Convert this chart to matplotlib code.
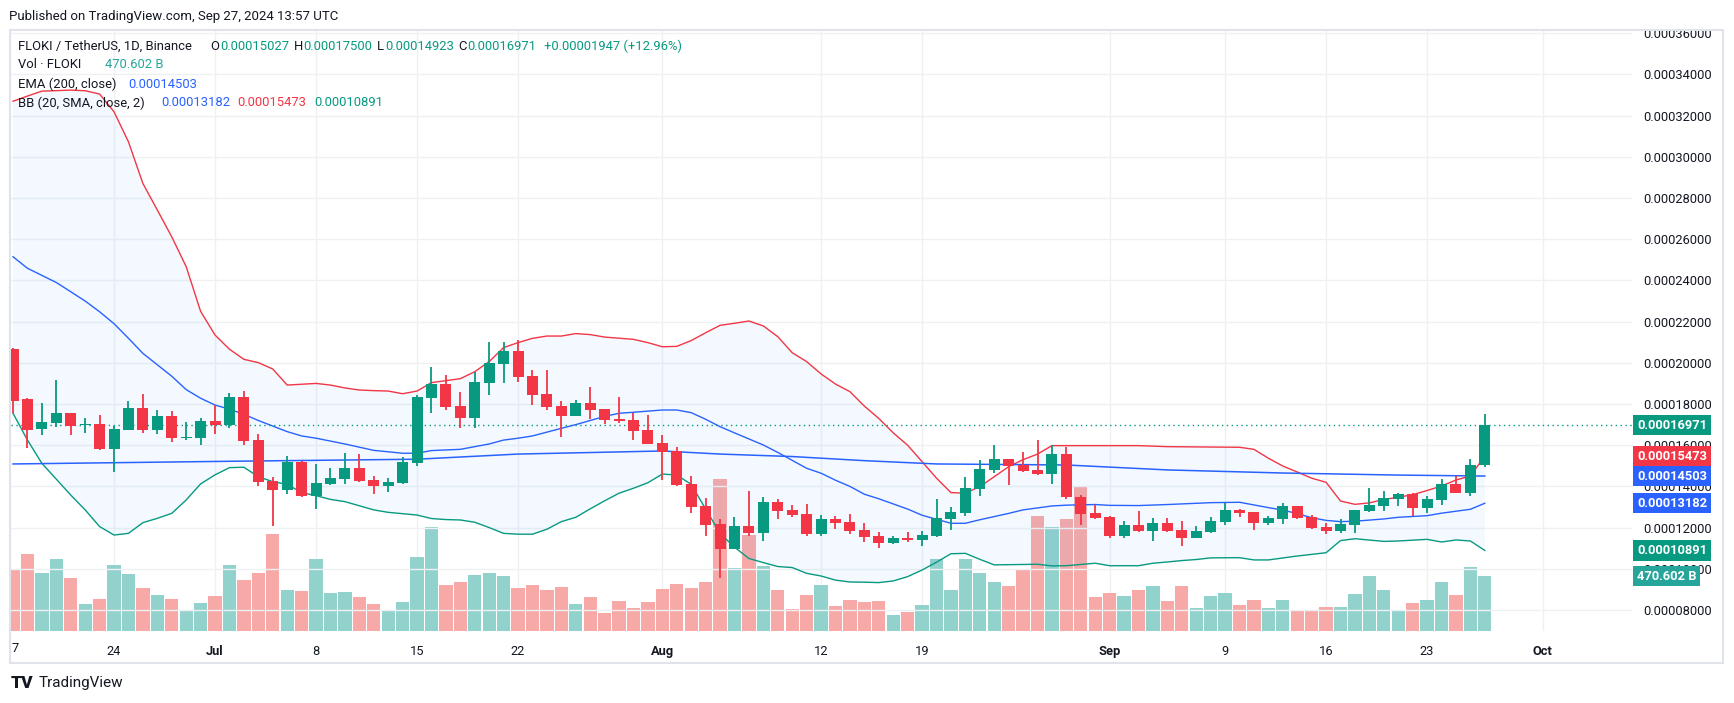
"""
FLOKI / TetherUS daily chart (TradingView screenshot style).

Outputs:
- out.png
"""

import numpy as np
import pandas as pd
import matplotlib
matplotlib.use("Agg")
import matplotlib.pyplot as plt
import matplotlib.dates as mdates
from matplotlib.patches import Rectangle
from matplotlib.transforms import blended_transform_factory, Bbox

plt.rcParams["font.family"] = ["Roboto", "DejaVu Sans"]

W, H = 1734, 703

# Daily candles from 2024-06-17; prices in units of 1e-5 USDT
START = "2024-06-17"
opens = [20.67, 18.23, 16.80, 17.10, 17.57, 16.97, 17.03, 15.82, 16.74, 17.81,
         16.74, 17.42, 16.37, 16.37, 17.18, 16.97, 18.34, 16.25, 14.26, 13.84,
         15.19, 13.55, 14.13, 14.38, 14.90, 14.31, 14.04, 14.18, 15.15, 18.31,
         18.97, 17.90, 17.34, 19.04, 19.96, 20.57, 19.36, 18.49, 17.90, 17.44,
         18.05, 17.76, 17.29, 17.23, 16.74, 16.11, 15.72, 14.12, 13.05, 12.18,
         10.96, 12.08, 11.74, 13.24, 12.86, 12.66, 11.69, 12.42, 12.27, 11.89,
         11.59, 11.25, 11.50, 11.40, 11.59, 12.42, 12.71, 13.88, 14.80, 15.33,
         15.04, 14.80, 14.60, 15.57, 13.49, 12.71, 12.52, 11.59, 12.13, 11.84,
         12.23, 11.89, 11.50, 11.79, 12.27, 12.86, 12.76, 12.23, 12.42, 13.05,
         12.52, 12.03, 11.83, 12.13, 12.81, 13.05, 13.39, 13.63, 12.97, 13.34,
         14.12, 13.68, 15.027]
highs = [20.70, 18.29, 18.05, 19.17, 17.57, 17.31, 17.47, 16.93, 18.15, 18.49,
         17.71, 17.66, 17.13, 17.32, 17.94, 18.54, 18.63, 16.55, 14.46, 15.48,
         15.24, 15.09, 14.90, 15.62, 15.57, 14.51, 14.41, 15.43, 18.44, 19.80,
         19.41, 18.58, 19.57, 21.01, 21.01, 21.11, 19.65, 19.65, 18.15, 18.20,
         18.83, 17.76, 18.34, 17.57, 17.47, 16.50, 15.92, 14.51, 13.44, 12.42,
         12.52, 13.78, 13.49, 13.39, 13.10, 13.15, 12.61, 12.56, 12.66, 12.23,
         11.79, 11.59, 11.79, 11.84, 13.39, 13.00, 14.46, 15.28, 16.01, 15.33,
         15.67, 16.25, 16.01, 15.92, 13.58, 13.10, 12.56, 12.32, 12.81, 12.47,
         12.47, 12.32, 12.08, 12.52, 13.20, 12.91, 12.76, 12.56, 13.20, 13.05,
         12.61, 12.22, 12.42, 12.85, 13.92, 13.78, 13.68, 13.68, 13.53, 14.36,
         14.51, 15.33, 17.500]
lows = [17.55, 15.88, 16.51, 16.90, 16.51, 16.58, 15.79, 14.72, 16.74, 16.61,
        16.55, 16.17, 16.27, 16.01, 16.56, 16.85, 16.03, 14.04, 12.10, 13.65,
        13.50, 12.92, 14.09, 14.13, 14.22, 13.65, 13.75, 14.13, 15.01, 17.58,
        17.73, 16.85, 16.85, 18.45, 19.04, 19.09, 17.97, 17.73, 16.42, 17.44,
        17.29, 17.05, 17.10, 16.27, 16.08, 14.33, 14.02, 12.73, 11.61, 9.57,
        10.96, 11.59, 11.35, 12.42, 12.52, 11.59, 11.59, 11.93, 11.69, 11.30,
        11.01, 11.21, 11.30, 11.11, 11.55, 11.89, 12.56, 13.54, 14.65, 14.07,
        14.70, 14.56, 14.13, 13.41, 12.13, 12.42, 11.50, 11.50, 11.79, 11.35,
        11.79, 11.11, 11.50, 11.74, 12.13, 12.52, 11.89, 12.13, 12.18, 12.43,
        11.93, 11.69, 11.74, 11.74, 12.76, 12.81, 13.05, 12.56, 12.71, 13.10,
        13.68, 13.53, 14.923]
closes = [18.16, 16.74, 17.13, 17.57, 16.95, 17.05, 15.82, 16.79, 17.81, 16.74,
          17.42, 16.37, 16.42, 17.18, 16.97, 18.34, 16.22, 14.23, 13.84, 15.19,
          13.55, 14.17, 14.41, 14.90, 14.26, 14.04, 14.22, 15.19, 18.34, 18.97,
          17.86, 17.34, 19.07, 19.99, 20.57, 19.33, 18.45, 17.87, 17.44, 18.05,
          17.73, 17.24, 17.19, 16.71, 16.08, 15.69, 14.07, 13.00, 12.13, 10.96,
          12.08, 11.74, 13.24, 12.81, 12.61, 11.69, 12.42, 12.23, 11.84, 11.55,
          11.25, 11.50, 11.40, 11.64, 12.47, 12.76, 13.92, 14.85, 15.33, 14.99,
          14.75, 14.60, 15.57, 13.49, 12.66, 12.47, 11.59, 12.13, 11.84, 12.23,
          11.84, 11.50, 11.84, 12.32, 12.86, 12.71, 12.23, 12.47, 13.05, 12.48,
          11.98, 11.83, 12.17, 12.85, 13.10, 13.44, 13.63, 12.97, 13.39, 14.12,
          13.68, 15.024, 16.971]
# volume in billions of FLOKI
volumes = [524, 659, 496, 616, 453, 231, 274, 565, 488, 368,
           308, 274, 171, 240, 299, 565, 436, 496, 830, 351,
           342, 616, 325, 334, 291, 231, 180, 248, 633, 890,
           394, 419, 479, 496, 471, 368, 394, 351, 376, 231,
           291, 154, 257, 197, 248, 359, 402, 368, 419, 1301,
           539, 821, 556, 351, 188, 308, 394, 214, 265, 248,
           257, 137, 163, 222, 616, 351, 616, 496, 419, 385,
           530, 984, 890, 958, 1241, 291, 325, 299, 351, 385,
           257, 385, 197, 299, 325, 222, 265, 197, 265, 171,
           171, 205, 205, 317, 471, 351, 171, 240, 265, 419,
           308, 548, 470.602]

# Bollinger Bands (20, 2), day = candles since START
bb_upper_day = [0, 1, 2, 4, 5, 6, 7, 8, 9, 10, 11, 12, 13, 14, 15, 16, 17, 18, 19, 20,
                21, 22, 23, 24, 25, 26, 27, 28, 29, 31, 32, 33, 34, 35, 36, 37, 38, 39, 40, 41,
                43, 44, 45, 46, 47, 48, 49, 50, 51, 52, 53, 54, 55, 56, 57, 58, 59, 60, 61, 62,
                63, 64, 65, 66, 67, 68, 69, 70, 71, 72, 78, 80, 85, 86, 87, 88, 89, 90, 91, 92,
                93, 94, 95, 96, 97, 98, 99, 100, 101, 102]
bb_upper = [32.70, 32.95, 33.19, 33.24, 33.21, 33.05, 32.19, 30.73, 28.71, 27.42,
            26.12, 24.67, 22.50, 21.35, 20.66, 20.17, 20.01, 19.70, 18.92, 18.96,
            19.00, 18.92, 18.78, 18.68, 18.65, 18.63, 18.50, 18.63, 19.04, 19.23,
            19.57, 20.06, 20.74, 20.98, 21.19, 21.30, 21.30, 21.42, 21.37, 21.25,
            21.14, 20.98, 20.78, 20.80, 21.08, 21.46, 21.82, 21.92, 22.03, 21.79,
            21.27, 20.49, 20.06, 19.46, 18.97, 18.60, 17.90, 17.30, 16.60, 16.00,
            15.20, 14.40, 13.70, 13.67, 13.99, 14.47, 14.96, 15.30, 15.57, 15.98,
            15.98, 15.93, 15.90, 15.80, 15.37, 14.99, 14.70, 14.40, 14.20, 13.29,
            13.13, 13.20, 13.37, 13.47, 13.60, 13.80, 14.02, 14.31, 14.51, 15.473]
bb_mid_day = [0, 1, 3, 5, 6, 7, 8, 9, 11, 12, 13, 14, 15, 16, 17, 18, 19, 20, 21, 22,
              23, 25, 27, 28, 29, 30, 31, 33, 34, 35, 36, 38, 39, 41, 42, 43, 45, 46, 47, 48,
              49, 50, 52, 53, 55, 56, 57, 58, 59, 60, 62, 63, 65, 66, 67, 69, 70, 72, 73, 75,
              76, 78, 80, 83, 85, 86, 87, 88, 89, 90, 91, 92, 93, 95, 96, 98, 99, 101, 102]
bb_mid = [25.15, 24.59, 23.90, 23.00, 22.48, 21.90, 21.19, 20.46, 19.35, 18.70,
          18.28, 17.95, 17.75, 17.50, 17.20, 16.93, 16.66, 16.45, 16.34, 16.20,
          16.06, 15.75, 15.61, 15.61, 15.74, 15.77, 15.80, 16.06, 16.25, 16.34,
          16.45, 16.82, 17.00, 17.40, 17.55, 17.60, 17.71, 17.71, 17.58, 17.26,
          16.90, 16.60, 16.01, 15.65, 14.88, 14.64, 14.30, 14.00, 13.62, 13.40,
          12.90, 12.60, 12.21, 12.21, 12.38, 12.69, 12.86, 13.05, 13.09, 13.12,
          13.08, 13.07, 13.12, 13.21, 13.23, 13.10, 12.97, 12.85, 12.68, 12.48,
          12.35, 12.29, 12.31, 12.42, 12.50, 12.58, 12.70, 12.89, 13.182]
bb_lower_day = [0, 1, 2, 4, 5, 6, 7, 8, 9, 10, 11, 12, 13, 14, 15, 16, 17, 18, 19, 20,
                21, 22, 23, 25, 26, 28, 29, 30, 31, 32, 33, 34, 35, 36, 37, 38, 39, 40, 41, 42,
                43, 44, 45, 46, 47, 48, 49, 50, 51, 52, 53, 54, 55, 56, 57, 58, 59, 60, 61, 62,
                63, 64, 65, 66, 67, 68, 69, 71, 72, 73, 75, 76, 78, 79, 80, 81, 82, 83, 85, 86,
                87, 89, 91, 92, 93, 95, 96, 98, 99, 100, 101, 102]
bb_lower = [17.55, 16.25, 15.12, 13.58, 12.86, 12.05, 11.64, 11.72, 12.24, 12.45,
            12.69, 13.34, 14.12, 14.56, 14.91, 14.93, 14.47, 14.23, 14.10, 13.70,
            13.55, 13.37, 13.26, 12.86, 12.74, 12.61, 12.44, 12.39, 12.37, 12.26,
            12.00, 11.72, 11.68, 11.68, 11.92, 12.29, 12.50, 12.91, 13.30, 13.67,
            13.91, 14.18, 14.60, 14.55, 14.10, 12.90, 11.72, 11.05, 10.50, 10.30,
            10.11, 10.06, 9.78, 9.65, 9.45, 9.36, 9.35, 9.33, 9.41, 9.62,
            9.94, 10.32, 10.73, 10.75, 10.46, 10.19, 10.20, 10.22, 10.14, 10.15,
            10.27, 10.15, 10.15, 10.27, 10.33, 10.40, 10.45, 10.53, 10.54, 10.43,
            10.43, 10.62, 10.78, 11.37, 11.46, 11.33, 11.35, 11.43, 11.30, 11.40,
            11.35, 10.891]

# EMA (200, close)
ema_day = [0, 15, 28, 35, 45, 49, 54, 59, 64, 73, 80, 88, 96, 102]
ema = [15.09, 15.22, 15.32, 15.57, 15.72, 15.57, 15.45, 15.25, 15.09, 15.04,
       14.80, 14.65, 14.55, 14.503]

x_tick_dates = ["2024-06-24", "2024-07-01", "2024-07-08", "2024-07-15", "2024-07-22",
                "2024-08-01", "2024-08-12", "2024-08-19", "2024-09-01", "2024-09-09",
                "2024-09-16", "2024-09-23", "2024-10-01"]
x_tick_labels = ["24", "Jul", "8", "15", "22", "Aug", "12", "19", "Sep", "9", "16", "23", "Oct"]
month_labels = {"Jul", "Aug", "Sep", "Oct"}
price_ticks = list(range(8, 37, 2))

GREEN = "#089981"
RED = "#F23645"
BLUE = "#2962FF"
VOL_GREEN = "#92d2cc"
VOL_RED = "#f7a9a7"
TEXT = "#131722"
GRID = "#eef0f4"
FS = 9.3


def fx(px):
    return px / W


def fy(py):
    return 1 - py / H


fig = plt.figure(figsize=(W / 100, H / 100), dpi=100)
rect = [fx(11), fy(631), fx(1632) - fx(11), fy(31) - fy(631)]
ax_vol = fig.add_axes(rect, zorder=0)
ax = fig.add_axes(rect, zorder=1, sharex=ax_vol)
ax.patch.set_alpha(0)

x0 = mdates.date2num(pd.Timestamp(START))
dates = pd.date_range(START, periods=len(closes), freq="D")
x = mdates.date2num(dates)
o = np.array(opens)
c = np.array(closes)
up = c >= o
colors = np.where(up, GREEN, RED)

# volume pane (shares the chart area, scaled so bars stay in the bottom strip)
ax_vol.bar(x, volumes, width=0.92, color=np.where(up, VOL_GREEN, VOL_RED), zorder=2)
ax_vol.set_ylim(0, 470.602 * 600 / 55)
ax_vol.set_yticks([])
for s in ax_vol.spines.values():
    s.set_visible(False)
ax_vol.tick_params(axis="x", length=0, labelbottom=False)
for d in x_tick_dates:
    ax_vol.axvline(mdates.date2num(pd.Timestamp(d)), color=GRID, lw=1, zorder=0)

# price gridlines
for p in price_ticks:
    ax.axhline(p, color=GRID, lw=1, zorder=0)

# Bollinger fill + lines
xu = x0 + np.array(bb_upper_day)
xl = x0 + np.array(bb_lower_day)
ax.fill(np.r_[xu, xl[::-1]], np.r_[bb_upper, bb_lower[::-1]],
        color="#2196F3", alpha=0.05, lw=0, zorder=1)
ax.plot(xu, bb_upper, color=RED, lw=1.0, zorder=2)
ax.plot(x0 + np.array(bb_mid_day), bb_mid, color=BLUE, lw=1.0, zorder=2)
ax.plot(xl, bb_lower, color=GREEN, lw=1.0, zorder=2)
ax.plot(x0 + np.array(ema_day), ema, color=BLUE, lw=1.1, zorder=2)

# candles
ax.vlines(x, lows, highs, color=colors, lw=1.3, zorder=3)
body = np.maximum(np.abs(c - o), 0.05)
ax.bar(x, body, bottom=np.minimum(o, c), width=0.76, color=colors, zorder=4)

# last price line
ax.axhline(closes[-1], color=GREEN, lw=1, ls=(0, (1, 2.5)), zorder=2)

ax.set_xlim(x0 - 0.14, x0 + 112.2)
ax.set_ylim(6.98, 36.11)
for s in ax.spines.values():
    s.set_visible(False)

ax.yaxis.tick_right()
ax.set_yticks(price_ticks)
ax.set_yticklabels([f"{p * 1e-5:.8f}" for p in price_ticks])
ax.tick_params(axis="y", length=0, pad=8, labelsize=FS, labelcolor=TEXT)
# the top label is cut by the frame in the screenshot
clip = Bbox.from_extents(0, 0, W, H - 31)
for lbl in ax.get_yticklabels():
    lbl.set_clip_box(clip)
    lbl.set_clip_on(True)

ax.set_xticks([mdates.date2num(pd.Timestamp(d)) for d in x_tick_dates])
ax.set_xticklabels(x_tick_labels)
ax.tick_params(axis="x", length=0, pad=10, labelsize=FS, labelcolor=TEXT)
for lbl in ax.get_xticklabels():
    if lbl.get_text() in month_labels:
        lbl.set_fontweight("bold")
fig.text(fx(15), fy(648), "7", ha="center", va="center", fontsize=FS, color=TEXT)

# price labels on the right scale
trans = blended_transform_factory(fig.transFigure, ax.transData)
box_labels = [
    (closes[-1], GREEN),
    (bb_upper[-1], RED),
    (ema[-1], BLUE),
    (bb_mid[-1], BLUE),
    (bb_lower[-1], GREEN),
]
for val, col in box_labels:
    ax.text(fx(1637), val, f"{val * 1e-5:.8f}", transform=trans, ha="left", va="center",
            fontsize=FS, fontweight="bold", color="white", zorder=10, clip_on=False,
            bbox=dict(boxstyle="square,pad=0.28", fc=col, ec="none"))
vtrans = blended_transform_factory(fig.transFigure, ax_vol.transData)
ax.text(fx(1637), volumes[-1], f"{volumes[-1]:.3f} B", transform=vtrans, ha="left",
        va="center", fontsize=FS, fontweight="bold", color="white", zorder=10,
        clip_on=False, bbox=dict(boxstyle="square,pad=0.28", fc="#26a69a", ec="none"))

# frame
fig.add_artist(Rectangle((fx(10), fy(663)), fx(1723) - fx(10), fy(30) - fy(663),
                         transform=fig.transFigure, fill=False, ec="#e0e3eb", lw=1.5))

# header and legend
fig.text(fx(9), fy(16.5), "Published on TradingView.com, Sep 27, 2024 13:57 UTC",
         fontsize=9.5, color=TEXT, va="center")


def seg(px, py, s, col=TEXT):
    fig.text(fx(px), fy(py), s, fontsize=9.4, color=col, va="center", ha="left")


chg = closes[-1] - closes[-2]
pct = chg / closes[-2] * 100
seg(18, 46.5, "FLOKI / TetherUS, 1D, Binance")
seg(210, 46.5, "O")
seg(220, 46.5, f"{opens[-1] * 1e-5:.8f}", GREEN)
seg(294, 46.5, "H")
seg(303, 46.5, f"{highs[-1] * 1e-5:.8f}", GREEN)
seg(377, 46.5, "L")
seg(385, 46.5, f"{lows[-1] * 1e-5:.8f}", GREEN)
seg(458, 46.5, "C")
seg(467, 46.5, f"{closes[-1] * 1e-5:.8f}", GREEN)
seg(544, 46.5, f"+{chg * 1e-5:.8f} (+{pct:.2f}%)", GREEN)
seg(18, 65, "Vol · FLOKI")
seg(105, 65, f"{volumes[-1]:.3f} B", "#26a69a")
seg(18, 84, "EMA (200, close)")
seg(128, 84, f"{ema[-1] * 1e-5:.8f}", BLUE)
seg(18, 103, "BB (20, SMA, close, 2)")
seg(161, 103, f"{bb_mid[-1] * 1e-5:.8f}", BLUE)
seg(237, 103, f"{bb_upper[-1] * 1e-5:.8f}", RED)
seg(314, 103, f"{bb_lower[-1] * 1e-5:.8f}", GREEN)

# footer logo
fig.text(fx(11), fy(683), "TV", fontsize=12.5, fontweight="black", color=TEXT, va="center")
fig.text(fx(39), fy(683), "TradingView", fontsize=11, color=TEXT, va="center")

fig.savefig("out.png", dpi=100)
